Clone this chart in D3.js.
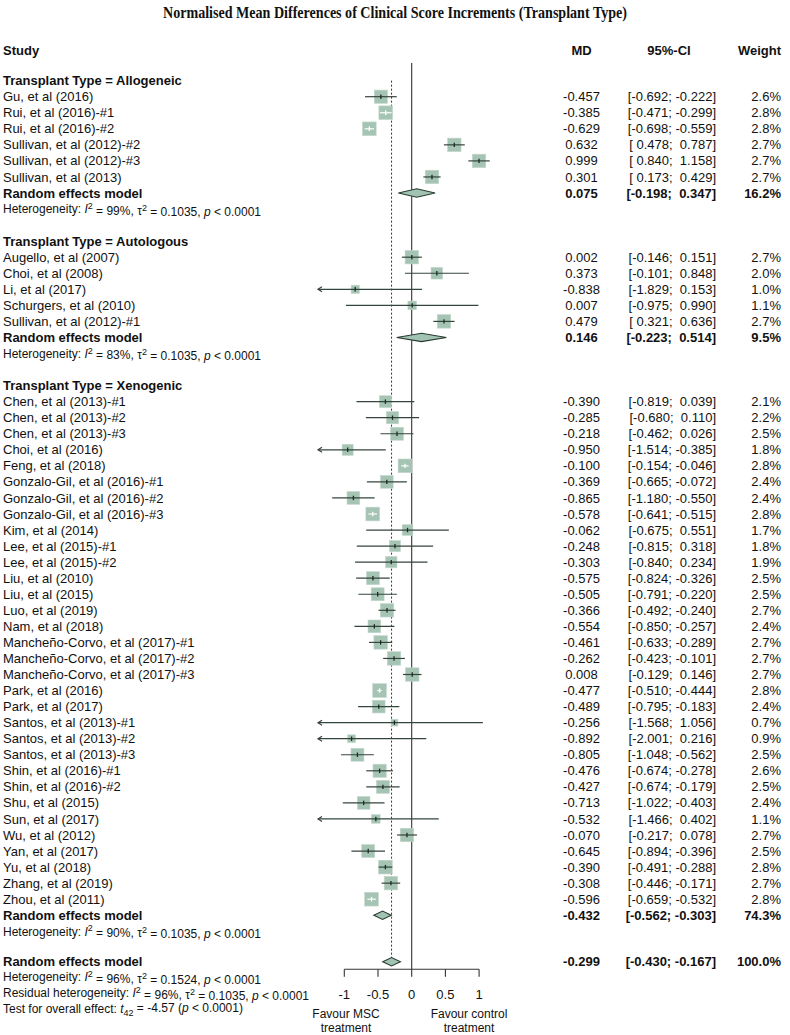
<!DOCTYPE html>
<html><head><meta charset="utf-8">
<script src="https://cdn.jsdelivr.net/npm/d3@7"></script>
<style>
body{margin:0;background:#fff}
svg{display:block}
text{font-family:"Liberation Sans",Arial,sans-serif;fill:#111}
</style>
</head><body>
<svg id="c" width="790" height="1035"></svg>
<script>
// ---------------- DATA ----------------
const groupNames = ["Allogeneic", "Autologous", "Xenogenic"];

// [study, MD, lower, upper, weight %]
const allogeneic = [
  ["Gu, et al (2016)", -0.457, -0.692, -0.222, 2.6],
  ["Rui, et al (2016)-#1", -0.385, -0.471, -0.299, 2.8],
  ["Rui, et al (2016)-#2", -0.629, -0.698, -0.559, 2.8],
  ["Sullivan, et al (2012)-#2", 0.632, 0.478, 0.787, 2.7],
  ["Sullivan, et al (2012)-#3", 0.999, 0.840, 1.158, 2.7],
  ["Sullivan, et al (2013)", 0.301, 0.173, 0.429, 2.7]
];
const autologous = [
  ["Augello, et al (2007)", 0.002, -0.146, 0.151, 2.7],
  ["Choi, et al (2008)", 0.373, -0.101, 0.848, 2.0],
  ["Li, et al (2017)", -0.838, -1.829, 0.153, 1.0],
  ["Schurgers, et al (2010)", 0.007, -0.975, 0.990, 1.1],
  ["Sullivan, et al (2012)-#1", 0.479, 0.321, 0.636, 2.7]
];
const xenogenic = [
  ["Chen, et al (2013)-#1", -0.390, -0.819, 0.039, 2.1],
  ["Chen, et al (2013)-#2", -0.285, -0.680, 0.110, 2.2],
  ["Chen, et al (2013)-#3", -0.218, -0.462, 0.026, 2.5],
  ["Choi, et al (2016)", -0.950, -1.514, -0.385, 1.8],
  ["Feng, et al (2018)", -0.100, -0.154, -0.046, 2.8],
  ["Gonzalo-Gil, et al (2016)-#1", -0.369, -0.665, -0.072, 2.4],
  ["Gonzalo-Gil, et al (2016)-#2", -0.865, -1.180, -0.550, 2.4],
  ["Gonzalo-Gil, et al (2016)-#3", -0.578, -0.641, -0.515, 2.8],
  ["Kim, et al (2014)", -0.062, -0.675, 0.551, 1.7],
  ["Lee, et al (2015)-#1", -0.248, -0.815, 0.318, 1.8],
  ["Lee, et al (2015)-#2", -0.303, -0.840, 0.234, 1.9],
  ["Liu, et al (2010)", -0.575, -0.824, -0.326, 2.5],
  ["Liu, et al (2015)", -0.505, -0.791, -0.220, 2.5],
  ["Luo, et al (2019)", -0.366, -0.492, -0.240, 2.7],
  ["Nam, et al (2018)", -0.554, -0.850, -0.257, 2.4],
  ["Mancheño-Corvo, et al (2017)-#1", -0.461, -0.633, -0.289, 2.7],
  ["Mancheño-Corvo, et al (2017)-#2", -0.262, -0.423, -0.101, 2.7],
  ["Mancheño-Corvo, et al (2017)-#3", 0.008, -0.129, 0.146, 2.7],
  ["Park, et al (2016)", -0.477, -0.510, -0.444, 2.8],
  ["Park, et al (2017)", -0.489, -0.795, -0.183, 2.4],
  ["Santos, et al (2013)-#1", -0.256, -1.568, 1.056, 0.7],
  ["Santos, et al (2013)-#2", -0.892, -2.001, 0.216, 0.9],
  ["Santos, et al (2013)-#3", -0.805, -1.048, -0.562, 2.5],
  ["Shin, et al (2016)-#1", -0.476, -0.674, -0.278, 2.6],
  ["Shin, et al (2016)-#2", -0.427, -0.674, -0.179, 2.5],
  ["Shu, et al (2015)", -0.713, -1.022, -0.403, 2.4],
  ["Sun, et al (2017)", -0.532, -1.466, 0.402, 1.1],
  ["Wu, et al (2012)", -0.070, -0.217, 0.078, 2.7],
  ["Yan, et al (2017)", -0.645, -0.894, -0.396, 2.5],
  ["Yu, et al (2018)", -0.390, -0.491, -0.288, 2.8],
  ["Zhang, et al (2019)", -0.308, -0.446, -0.171, 2.7],
  ["Zhou, et al (2011)", -0.596, -0.659, -0.532, 2.8]
];
// subgroup random effects: [MD, lower, upper, weight]
const subgroupModels = [
  [0.075, -0.198, 0.347, 16.2],
  [0.146, -0.223, 0.514, 9.5],
  [-0.432, -0.562, -0.303, 74.3]
];
// subgroup heterogeneity: [I2, tau2, p]
const subgroupHet = [
  ["99%", "0.1035", "< 0.0001"],
  ["83%", "0.1035", "< 0.0001"],
  ["90%", "0.1035", "< 0.0001"]
];
const overallModel = [-0.299, -0.430, -0.167, 100.0];
const overallHet = ["96%", "0.1524", "< 0.0001"];
const residualHet = ["96%", "0.1035", "< 0.0001"];
const overallTest = ["42", "-4.57", "< 0.0001"];
const xTicks = [-1, -0.5, 0, 0.5, 1];
const xTickLabels = ["-1", "-0.5", "0", "0.5", "1"];
const xLimLower = -1.39;
const labelLeft = ["Favour MSC", "treatment"];
const labelRight = ["Favour control", "treatment"];

// ---------------- LAYOUT ----------------
const svg = d3.select("#c");
const x = d3.scaleLinear().domain([-1, 1]).range([344.3, 479.1]);
const y = d3.scaleLinear().domain([0, 1]).range([96.7, 112.75]); // row index -> y

const SQ = "#a5c4b4", LINE = "#34453d";
const f3 = v => v.toFixed(3);
const fmtCI = (lo, hi) => "[" + (lo >= 0 ? " " : "") + f3(lo) + "; " + (hi >= 0 ? " " : "") + f3(hi) + "]";
const fmtW = w => w.toFixed(1) + "%";

const COL_MD = 581.5, COL_CI = 716, COL_W = 781;

// Build rows
const groups = [allogeneic, autologous, xenogenic];
let rows = [];
let r = -1;
groups.forEach((g, gi) => {
  rows.push({type: "header", r: r, label: "Transplant Type = " + groupNames[gi]});
  r++;
  g.forEach(d => { rows.push({type: "study", r: r, label: d[0], md: d[1], lo: d[2], hi: d[3], w: d[4]}); r++; });
  const m = subgroupModels[gi];
  rows.push({type: "model", r: r, label: "Random effects model", md: m[0], lo: m[1], hi: m[2], w: m[3]}); r++;
  rows.push({type: "het", r: r, het: subgroupHet[gi]}); r++;
  r += 1; // blank row
});
// overall section (slightly tighter gap, as in the reference)
const rOverall = r - 0.1;
rows.push({type: "model", r: rOverall, label: "Random effects model", md: overallModel[0], lo: overallModel[1], hi: overallModel[2], w: overallModel[3]});

// ---------------- TITLE & HEADERS ----------------
svg.append("text").attr("x", 395).attr("y", 18).attr("text-anchor", "middle")
  .style("font-family", "'Liberation Serif','Times New Roman',serif").style("font-weight", "bold").style("font-size", "16px")
  .attr("textLength", 464).attr("lengthAdjust", "spacingAndGlyphs")
  .text("Normalised Mean Differences of Clinical Score Increments (Transplant Type)");

const yHead = y(-3) + 1.5;
const head = svg.append("g").style("font-weight", "bold").style("font-size", "13px");
head.append("text").attr("x", 3).attr("y", yHead).attr("dy", "0.35em").text("Study");
head.append("text").attr("x", COL_MD).attr("y", yHead).attr("dy", "0.35em").attr("text-anchor", "middle").text("MD");
head.append("text").attr("x", 669).attr("y", yHead).attr("dy", "0.35em").attr("text-anchor", "middle").text("95%-CI");
head.append("text").attr("x", COL_W).attr("y", yHead).attr("dy", "0.35em").attr("text-anchor", "end").text("Weight");

// ---------------- REFERENCE LINES ----------------
const yAxis = y(rOverall) + 7.5;
svg.append("line").attr("x1", x(0)).attr("x2", x(0)).attr("y1", y(-2.1)).attr("y2", yAxis)
  .attr("stroke", "#333").attr("stroke-width", 1.1);
svg.append("line").attr("x1", x(overallModel[0])).attr("x2", x(overallModel[0]))
  .attr("y1", y(-1)).attr("y2", y(rOverall) - 4)
  .attr("stroke", "#333").attr("stroke-width", 1).attr("stroke-dasharray", "2,2");

// ---------------- TEXT ROWS ----------------
function hetText(sel, parts, prefix) {
  const t = sel.append("text").style("font-size", "12px").attr("x", 3).attr("dy", "0.35em").style("white-space", "pre");
  t.append("tspan").text(prefix);
  t.append("tspan").style("font-style", "italic").text("I");
  t.append("tspan").attr("dy", "-0.45em").style("font-size", "9px").text("2");
  t.append("tspan").attr("dy", "0.45em").text(" = " + parts[0] + ", ");
  t.append("tspan").text("\u03C4");
  t.append("tspan").attr("dy", "-0.45em").style("font-size", "9px").text("2");
  t.append("tspan").attr("dy", "0.45em").text(" = " + parts[1] + ", ");
  t.append("tspan").style("font-style", "italic").text("p");
  t.append("tspan").text(" " + parts[2]);
  return t;
}

rows.forEach(d => {
  const yy = y(d.r);
  const g = svg.append("g");
  if (d.type === "header") {
    g.append("text").attr("x", 3).attr("y", yy).attr("dy", "0.35em").style("font-weight", "bold").style("font-size", "13px").text(d.label);
  } else if (d.type === "het") {
    hetText(g, d.het, "Heterogeneity: ").attr("y", yy);
  } else {
    const bold = d.type === "model";
    const tg = g.append("g").style("font-size", "13px").style("font-weight", bold ? "bold" : "normal");
    tg.append("text").attr("x", 3).attr("y", yy).attr("dy", "0.35em").text(d.label);
    tg.append("text").attr("x", COL_MD).attr("y", yy).attr("dy", "0.35em").attr("text-anchor", "middle").text(f3(d.md));
    tg.append("text").attr("x", COL_CI).attr("y", yy).attr("dy", "0.35em").attr("text-anchor", "end").style("white-space", "pre").text(fmtCI(d.lo, d.hi));
    tg.append("text").attr("x", COL_W).attr("y", yy).attr("dy", "0.35em").attr("text-anchor", "end").text(fmtW(d.w));
  }
});

// overall heterogeneity & test lines
const ov = svg.append("g");
hetText(ov, overallHet, "Heterogeneity: ").attr("y", y(rOverall + 0.95));
hetText(ov, residualHet, "Residual heterogeneity: ").attr("y", y(rOverall + 1.95));
{
  const t = ov.append("text").style("font-size", "12px").attr("x", 3).attr("y", y(rOverall + 2.95)).attr("dy", "0.35em");
  t.append("tspan").text("Test for overall effect: ");
  t.append("tspan").style("font-style", "italic").text("t");
  t.append("tspan").attr("dy", "0.3em").style("font-size", "9px").text(overallTest[0]);
  t.append("tspan").attr("dy", "-0.3em").text(" = " + overallTest[1] + " (");
  t.append("tspan").style("font-style", "italic").text("p");
  t.append("tspan").text(" " + overallTest[2] + ")");
}

// ---------------- MARKS ----------------
const plot = svg.append("g");
rows.filter(d => d.type === "study").forEach(d => {
  const yy = y(d.r);
  const side = 8.2 * Math.sqrt(d.w);
  const cx = x(d.md);
  const loC = Math.max(d.lo, xLimLower);
  const inside = (x(d.hi) - x(d.lo)) < side - 0.5;
  plot.append("rect").attr("x", cx - side / 2).attr("y", yy - side / 2).attr("width", side).attr("height", side)
    .attr("fill", SQ).attr("stroke", "#c4d8cd").attr("stroke-width", 0.6);
  const col = inside ? "#ffffff" : LINE;
  plot.append("line").attr("x1", x(loC)).attr("x2", x(d.hi)).attr("y1", yy).attr("y2", yy)
    .attr("stroke", col).attr("stroke-width", 1.2);
  plot.append("line").attr("x1", cx).attr("x2", cx).attr("y1", yy - 2.2).attr("y2", yy + 2.2)
    .attr("stroke", inside ? "#ffffff" : "#1d2a24").attr("stroke-width", 1.3);
  if (d.lo < xLimLower) {
    const ax = x(xLimLower);
    plot.append("path").attr("d", `M${ax + 4},${yy - 2.5}L${ax},${yy}L${ax + 4},${yy + 2.5}`)
      .attr("fill", "none").attr("stroke", LINE).attr("stroke-width", 1.2);
  }
});
rows.filter(d => d.type === "model").forEach(d => {
  const yy = y(d.r);
  const h = 4.2;
  plot.append("path")
    .attr("d", `M${x(d.lo)},${yy}L${x(d.md)},${yy - h}L${x(d.hi)},${yy}L${x(d.md)},${yy + h}Z`)
    .attr("fill", "#a0c4b1").attr("stroke", "#2b3a33").attr("stroke-width", 1.1);
});

// ---------------- AXIS ----------------
const axisG = svg.append("g").attr("transform", `translate(0,${yAxis})`);
axisG.append("line").attr("x1", x(xTicks[0])).attr("x2", x(xTicks[xTicks.length - 1]))
  .attr("stroke", "#333").attr("stroke-width", 1.1);
xTicks.forEach((t, i) => {
  axisG.append("line").attr("x1", x(t)).attr("x2", x(t)).attr("y1", 0).attr("y2", 7.5).attr("stroke", "#333").attr("stroke-width", 1.1);
  axisG.append("text").attr("x", x(t)).attr("y", 25).attr("dy", "0.35em").attr("text-anchor", "middle").style("font-size", "13px").text(xTickLabels[i]);
});
labelLeft.forEach((s, i) => {
  axisG.append("text").attr("x", 346).attr("y", 45 + i * 13.5).attr("dy", "0.35em").attr("text-anchor", "middle").style("font-size", "12px").text(s);
});
labelRight.forEach((s, i) => {
  axisG.append("text").attr("x", 469).attr("y", 45 + i * 13.5).attr("dy", "0.35em").attr("text-anchor", "middle").style("font-size", "12px").text(s);
});
</script>
</body></html>
